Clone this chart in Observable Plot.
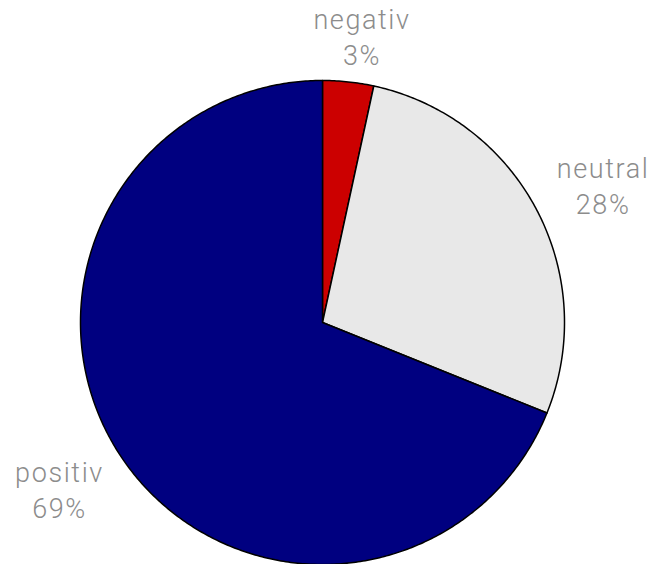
<!DOCTYPE html>
<html>
<head>
<meta charset="utf-8">
<script src="https://cdn.jsdelivr.net/npm/d3@7"></script>
<script src="https://cdn.jsdelivr.net/npm/@observablehq/plot@0.6"></script>
<style>
  html, body { margin: 0; padding: 0; background: #fff; }
  #chart svg text { letter-spacing: 1.6px; }
</style>
</head>
<body>
<div id="chart"></div>
<script>
const categories = ["negativ", "neutral", "positiv"];
const shares = [3.4, 27.7, 68.9];
const percentLabels = ["3%", "28%", "69%"];
const colors = ["#cc0000", "#e8e8e8", "#000080"];

const arcs = d3.pie().sort(null).value(d => d)(shares);

// Build polygon outlines for each slice in unit coordinates
const slices = arcs.map((a, i) => {
  const pts = [{x: 0, y: 0}];
  const n = Math.max(4, Math.ceil((a.endAngle - a.startAngle) / 0.01));
  for (let k = 0; k <= n; k++) {
    const t = a.startAngle + (a.endAngle - a.startAngle) * k / n;
    pts.push({x: Math.sin(t), y: Math.cos(t)});
  }
  pts.push({x: 0, y: 0});
  return {cat: categories[i], color: colors[i], pts};
});

const labelData = arcs.map((a, i) => {
  const mid = (a.startAngle + a.endAngle) / 2 + 0.03;
  const r = 1.18 + 0.125 * Math.abs(Math.sin(mid));
  return {x: r * Math.sin(mid), y: r * Math.cos(mid), text: categories[i] + "\n" + percentLabels[i]};
});

const chart = Plot.plot({
  width: 656,
  height: 564,
  marginLeft: 80,
  marginRight: 92,
  marginTop: 80,
  marginBottom: 0,
  x: {domain: [-1, 1], axis: null},
  y: {domain: [-1, 1], axis: null},
  marks: [
    ...slices.map(s => Plot.line(s.pts, {x: "x", y: "y", fill: s.color, stroke: "black", strokeWidth: 1.5, curve: "linear"})),
    Plot.text(labelData, {x: "x", y: "y", text: "text", fill: "#8c8c8c", fontSize: 27, fontWeight: 300, lineHeight: 1.34, fontFamily: "Roboto, sans-serif"})
  ],
  style: {overflow: "visible", background: "white"}
});
document.getElementById("chart").appendChild(chart);
</script>
</body>
</html>
